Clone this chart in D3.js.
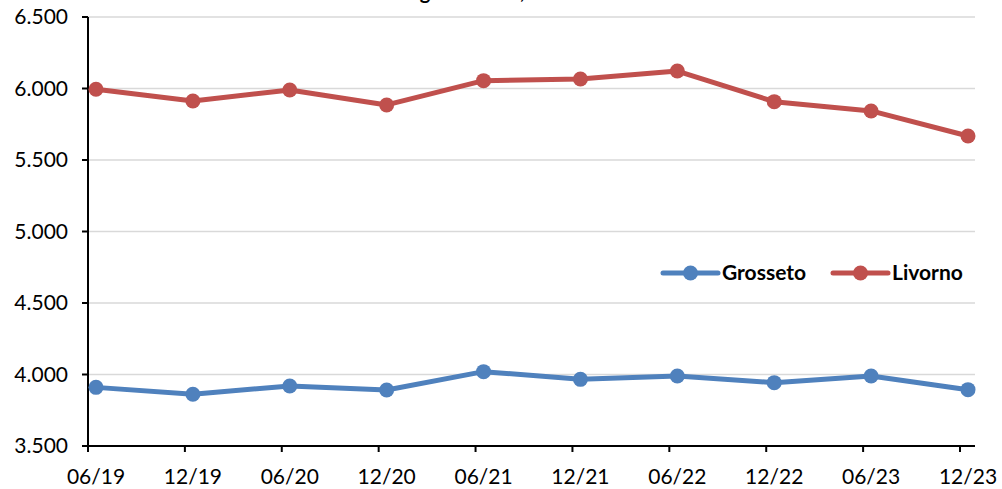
<!DOCTYPE html>
<html>
<head>
<meta charset="utf-8">
<script src="https://cdn.jsdelivr.net/npm/d3@7"></script>
<style>
  body { margin: 0; background: #fff; }
  svg { display: block; font-family: Lato, 'Open Sans', sans-serif; }
</style>
</head>
<body>
<svg id="chart" width="1002" height="489"></svg>
<script>
(() => {
  const periods = ['06/19', '12/19', '06/20', '12/20', '06/21', '12/21', '06/22', '12/22', '06/23', '12/23'];
  const grosseto = [3910, 3862, 3920, 3892, 4020, 3966, 3990, 3943, 3990, 3894];
  const livorno = [5995, 5913, 5990, 5885, 6055, 6066, 6122, 5908, 5843, 5668];
  const yTicks = [3500, 4000, 4500, 5000, 5500, 6000, 6500];

  const series = [
    {name: 'Grosseto', values: grosseto, color: '#4f81bd'},
    {name: 'Livorno', values: livorno, color: '#c0504d'}
  ];

  const svg = d3.select('#chart'),
      left = 88, right = 975, top = 17, bottom = 446;

  const x = d3.scalePoint()
      .domain(periods)
      .range([96, 968]);

  const y = d3.scaleLinear()
      .domain([3500, 6500])
      .range([bottom, top]);

  const fmt = d => d3.format(',')(d).replace(/,/g, '.');

  // title, cut off at the top edge as in the source image
  svg.append('text')
      .attr('x', 475)
      .attr('y', -1)
      .attr('text-anchor', 'middle')
      .attr('font-weight', 'bold')
      .attr('font-size', 20)
      .text('Numero degli avvocati, 2019-2023');

  // grid
  svg.append('g')
      .selectAll('line')
      .data(yTicks.slice(1))
      .enter().append('line')
      .attr('x1', left).attr('x2', right)
      .attr('y1', d => y(d)).attr('y2', d => y(d))
      .attr('stroke', '#d9d9d9')
      .attr('stroke-width', 1.5);

  // y axis
  const yAxis = svg.append('g');
  yAxis.append('line')
      .attr('x1', left).attr('x2', left)
      .attr('y1', top).attr('y2', bottom)
      .attr('stroke', '#000').attr('stroke-width', 2);
  const yTick = yAxis.selectAll('g')
      .data(yTicks)
      .enter().append('g')
      .attr('transform', d => `translate(0,${y(d)})`);
  yTick.append('line')
      .attr('x1', left - 6).attr('x2', left)
      .attr('stroke', '#000').attr('stroke-width', 2);
  yTick.append('text')
      .attr('x', 68)
      .attr('dy', '0.35em')
      .attr('text-anchor', 'end')
      .attr('font-size', 21)
      .attr('fill', '#000')
      .text(fmt);

  // x axis
  const xAxis = svg.append('g');
  xAxis.append('line')
      .attr('x1', left).attr('x2', right)
      .attr('y1', bottom).attr('y2', bottom)
      .attr('stroke', '#000').attr('stroke-width', 2);
  const xTick = xAxis.selectAll('g')
      .data(periods)
      .enter().append('g')
      .attr('transform', d => `translate(${x(d)},0)`);
  xTick.append('line')
      .attr('x1', -8).attr('x2', -8)
      .attr('y1', bottom).attr('y2', bottom + 6)
      .attr('stroke', '#000').attr('stroke-width', 2);
  xTick.append('text')
      .attr('y', 484)
      .attr('text-anchor', 'middle')
      .attr('font-size', 21)
      .attr('fill', '#000')
      .text(d => d);

  // lines
  const line = d3.line()
      .x((d, i) => x(periods[i]))
      .y(d => y(d));

  const sg = svg.append('g')
      .selectAll('g')
      .data(series)
      .enter().append('g');

  sg.append('path')
      .attr('d', d => line(d.values))
      .attr('fill', 'none')
      .attr('stroke', d => d.color)
      .attr('stroke-width', 5)
      .attr('stroke-linejoin', 'round');

  sg.each(function (s) {
    d3.select(this).selectAll('circle')
        .data(s.values)
        .enter().append('circle')
        .attr('cx', (d, i) => x(periods[i]))
        .attr('cy', d => y(d))
        .attr('r', 7.5)
        .attr('fill', s.color);
  });

  // legend
  const legend = svg.append('g')
      .selectAll('g')
      .data(series)
      .enter().append('g')
      .attr('transform', (d, i) => `translate(${663 + i * 170},273)`);

  legend.append('line')
      .attr('x2', 55)
      .attr('stroke', d => d.color)
      .attr('stroke-width', 5)
      .attr('stroke-linecap', 'round');

  legend.append('circle')
      .attr('cx', 27.5)
      .attr('r', 7.5)
      .attr('fill', d => d.color);

  legend.append('text')
      .attr('x', 59)
      .attr('dy', '0.35em')
      .attr('font-size', 21)
      .attr('font-weight', 'bold')
      .attr('fill', '#000')
      .text(d => d.name);
})();
</script>
</body>
</html>
